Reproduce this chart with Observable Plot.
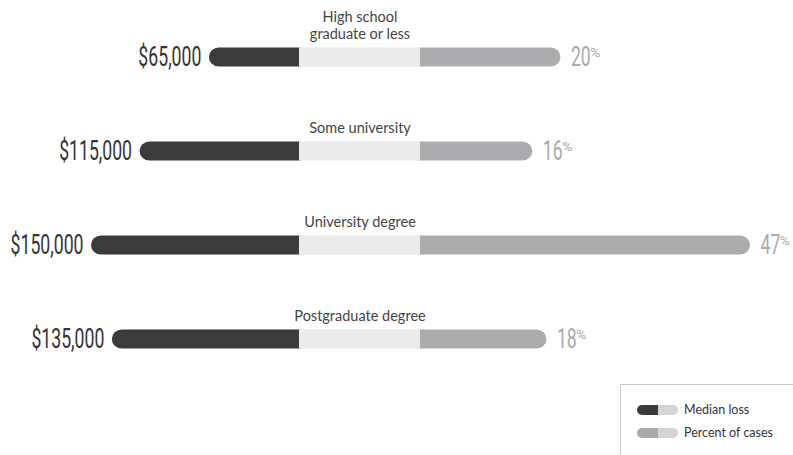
<!DOCTYPE html>
<html>
<head>
<meta charset="utf-8">
<script src="https://cdn.jsdelivr.net/npm/d3@7"></script>
<script src="https://cdn.jsdelivr.net/npm/@observablehq/plot@0.6"></script>
<style>
  html, body { margin: 0; padding: 0; background: #fff; }
  #wrap { position: relative; width: 793px; height: 455px; overflow: hidden; }
  #legend { position: absolute; left: 620px; top: 384px; width: 200px; height: 100px;
    border: 1px solid #c8c8c8; box-sizing: border-box; font-family: "Lato", "Open Sans", sans-serif;
    font-size: 12.5px; color: #333; }
  .item { position: absolute; left: 16px; display: flex; align-items: center; line-height: 14px; }
  .pill { width: 41px; height: 10px; border-radius: 5px; overflow: hidden; display: flex; margin-right: 6px; }
  .pill span { display: block; height: 100%; width: 50%; }
</style>
</head>
<body>
<div id="wrap">
  <div id="chart"></div>
  <div id="legend">
    <div class="item" style="top:18px"><div class="pill"><span style="background:#3b3b3b"></span><span style="background:#d4d4d6"></span></div>Median loss</div>
    <div class="item" style="top:41px"><div class="pill"><span style="background:#a9a9ab"></span><span style="background:#d4d4d6"></span></div>Percent of cases</div>
  </div>
</div>
<script>
const categories = ["High school\ngraduate or less", "Some university", "University degree", "Postgraduate degree"];
const medianLoss = [65000, 115000, 150000, 135000];
const lossLabels = ["$65,000", "$115,000", "$150,000", "$135,000"];
const percentCases = [20, 16, 47, 18];

const data = categories.map((c, i) => ({cat: c, loss: medianLoss[i], label: lossLabels[i], pct: percentCases[i]}));

// two value scales sharing a pixel-identity x axis
const lossPx = d3.scaleLinear().domain([0, 150000]).range([299, 91]);
const pctPx = d3.scaleLinear().domain([0, 47]).range([420, 750]);
const midL = lossPx(0), midR = pctPx(0);

const inset = 37.4;

const chart = Plot.plot({
  width: 793,
  height: 387,
  marginTop: 8,
  marginBottom: 0,
  marginLeft: 0,
  marginRight: 0,
  x: {type: "identity"},
  y: {type: "band", domain: categories, padding: 0, axis: null},
  marks: [
    Plot.barX(data, {x1: d => lossPx(d.loss), x2: midL + 10, y: "cat", fill: "#3b3b3b", rx: 10, insetTop: inset, insetBottom: inset}),
    Plot.barX(data, {x1: midR - 10, x2: d => pctPx(d.pct), y: "cat", fill: "#acacae", rx: 10, insetTop: inset, insetBottom: inset}),
    Plot.barX(data, {x1: midL, x2: midR, y: "cat", fill: "#ebebeb", insetTop: inset, insetBottom: inset}),
    Plot.text(data, {x: (midL + midR) / 2, y: "cat", text: "cat", lineAnchor: "bottom", lineHeight: 1.12, dy: -19, fontSize: 14.5, fill: "#444", fontFamily: "Lato, 'Open Sans', sans-serif"}),
    Plot.text(data, {x: d => lossPx(d.loss) - 8, y: "cat", text: "label", textAnchor: "end", fontSize: 28, fill: "#333", fontFamily: "Roboto, sans-serif"}),
    Plot.text(data, {x: d => pctPx(d.pct) + 10, y: "cat", text: d => String(d.pct), textAnchor: "start", fontSize: 28, fill: "#aaaaaa", fontFamily: "Roboto, sans-serif"})
  ]
});
document.getElementById("chart").appendChild(chart);

// condense the big value labels
const textGroups = chart.querySelectorAll('g[aria-label="text"]');
const squeeze = 0.63;
[textGroups[1], textGroups[2]].forEach((g, gi) => {
  g.querySelectorAll("text").forEach(t => {
    const w = t.getComputedTextLength();
    t.setAttribute("textLength", (w * squeeze).toFixed(1));
    t.setAttribute("lengthAdjust", "spacingAndGlyphs");
    if (gi === 1) {
      const pct = document.createElementNS("http://www.w3.org/2000/svg", "text");
      pct.setAttribute("transform", t.getAttribute("transform"));
      pct.setAttribute("x", (w * squeeze - 0.5).toFixed(1));
      pct.setAttribute("y", "-1");
      pct.setAttribute("font-size", "12");
      pct.setAttribute("textLength", "10");
      pct.setAttribute("lengthAdjust", "spacingAndGlyphs");
      pct.textContent = "%";
      g.appendChild(pct);
    }
  });
});
</script>
</body>
</html>
